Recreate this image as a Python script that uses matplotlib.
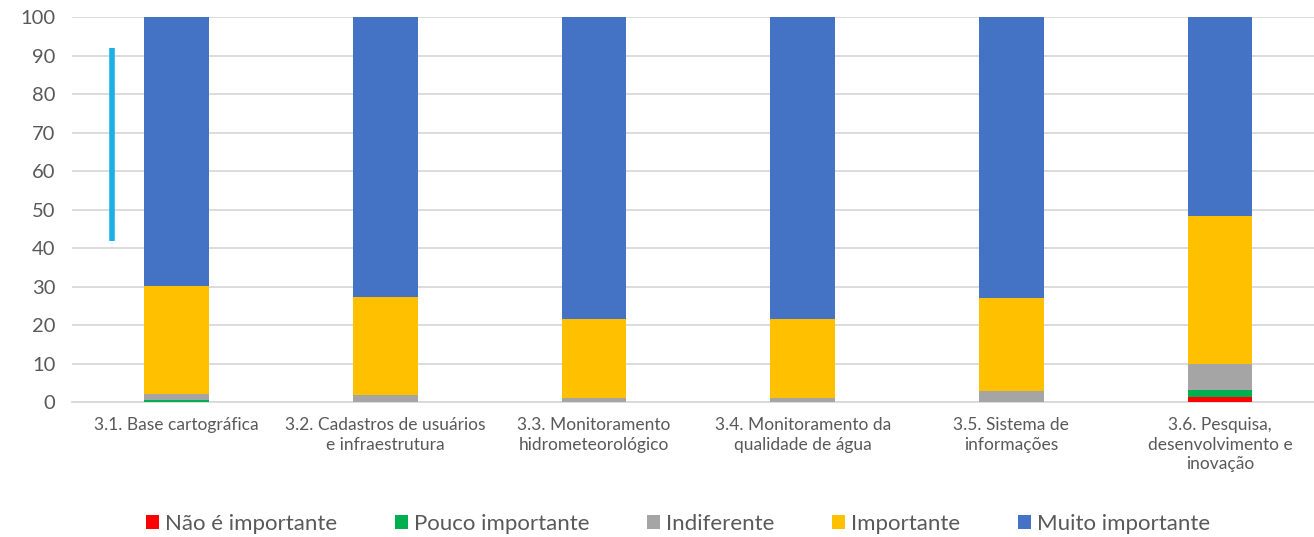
import numpy as np
import matplotlib.pyplot as plt

plt.rcParams['font.family'] = ['Lato', 'DejaVu Sans']

categorias = ['3.1. Base cartográfica',
              '3.2. Cadastros de usuários\ne infraestrutura',
              '3.3. Monitoramento\nhidrometeorológico',
              '3.4. Monitoramento da\nqualidade de água',
              '3.5. Sistema de\ninformações',
              '3.6. Pesquisa,\ndesenvolvimento e\ninovação']

nao_importante = [0.0, 0.0, 0.0, 0.0, 0.0, 1.4]
pouco_importante = [0.5, 0.0, 0.0, 0.0, 0.0, 1.8]
indiferente = [1.7, 1.9, 1.0, 1.0, 2.8, 6.7]
importante = [28.1, 25.4, 20.5, 20.5, 24.2, 38.4]
muito_importante = [69.7, 72.7, 78.5, 78.5, 73.0, 51.7]

series = [('Não é importante', nao_importante, '#FF0000'),
          ('Pouco importante', pouco_importante, '#00B050'),
          ('Indiferente', indiferente, '#A5A5A5'),
          ('Importante', importante, '#FFC000'),
          ('Muito importante', muito_importante, '#4472C4')]

# linha azul solta no gráfico original
linha_x = [-0.31, -0.31]
linha_y = [42, 92]

fig = plt.figure(figsize=(13.14, 5.37), dpi=100)
ax = fig.add_axes([0.055, 0.251, 0.945, 0.717])

x = np.arange(len(categorias))
base = np.zeros(len(categorias))
for nome, vals, cor in series:
    ax.bar(x, vals, 0.31, bottom=base, color=cor, label=nome, zorder=3)
    base += np.array(vals)

ax.plot(linha_x, linha_y, color='#1AAFE6', lw=4, solid_capstyle='butt', zorder=4)

ax.set_ylim(0, 100)
ax.set_xlim(-0.5, 5.45)
ax.set_yticks(range(0, 101, 10))
ax.yaxis.grid(True, color='#D9D9D9', lw=1.3, zorder=0)
for s in ['top', 'right', 'left']:
    ax.spines[s].set_visible(False)
ax.spines['bottom'].set_color('#D9D9D9')
ax.spines['bottom'].set_linewidth(1.3)
ax.tick_params(axis='y', length=0, labelsize=14.5, labelcolor='#595959', pad=12)
ax.tick_params(axis='x', length=0, labelsize=12.5, labelcolor='#595959', pad=11)
ax.set_xticks(x)
ax.set_xticklabels(categorias, linespacing=1.25)

fig.legend(loc='center', bbox_to_anchor=(0.516, 0.025), ncol=5, frameon=False,
           fontsize=16, handlelength=0.6, handleheight=0.6, handletextpad=0.25,
           columnspacing=2.6, labelcolor='#595959')

fig.savefig('out.png', dpi=100)
